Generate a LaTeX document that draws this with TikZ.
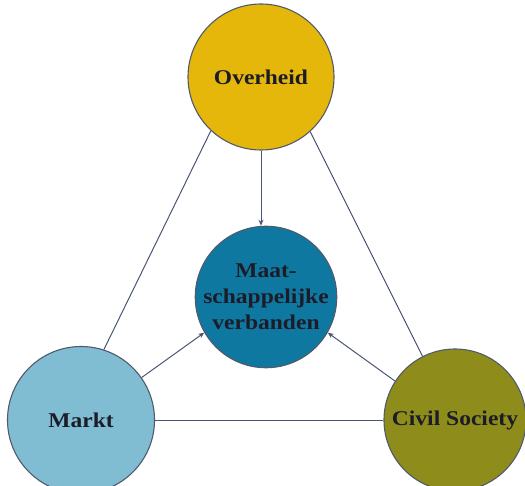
\documentclass[tikz,border=0pt]{standalone}
\usepackage{fontspec}
\setmainfont{Liberation Serif}[FakeStretch=1.12]
\usetikzlibrary{arrows.meta}
\definecolor{cgold}{HTML}{E6B70B}
\definecolor{cteal}{HTML}{0F78A1}
\definecolor{clight}{HTML}{80BDD3}
\definecolor{colive}{HTML}{8E8D1C}
\definecolor{cborder}{HTML}{505A6C}
\definecolor{cline}{HTML}{4A5674}
\definecolor{ctext}{HTML}{1C1C28}
\tikzset{
  bubble/.style={circle, draw=cborder, line width=1.1pt, inner sep=0pt,
    text=ctext, font=\fontsize{21}{26}\selectfont\bfseries, align=center},
  link/.style={draw=cline, line width=1pt},
  arr/.style={link, -{Stealth[length=6pt,width=5pt]}}
}
\begin{document}
\begin{tikzpicture}[x=1pt,y=-1pt]
\useasboundingbox (0,0) rectangle (525,486);
\node[bubble, fill=cgold, minimum size=146pt] (ov) at (261,77) {Overheid};
\node[bubble, fill=cteal, minimum size=138pt] (mv) at (266,297) {Maat-\\schappelijke\\verbanden};
\node[bubble, fill=clight, minimum size=147pt] (mk) at (81,420) {Markt};
\node[bubble, fill=colive, minimum size=142pt] (cs) at (455,420) {Civil Society};
\draw[link] (ov.227) -- (mk.72);
\draw[link] (ov.312) -- (cs.117);
\draw[link] (mk.east) -- (cs.west);
\draw[arr] (ov.south) -- (ov.south |- mv.north);
\draw[arr] (mk.35) -- (mv.210);
\draw[arr] (cs.147) -- (mv.330);
\end{tikzpicture}
\end{document}
